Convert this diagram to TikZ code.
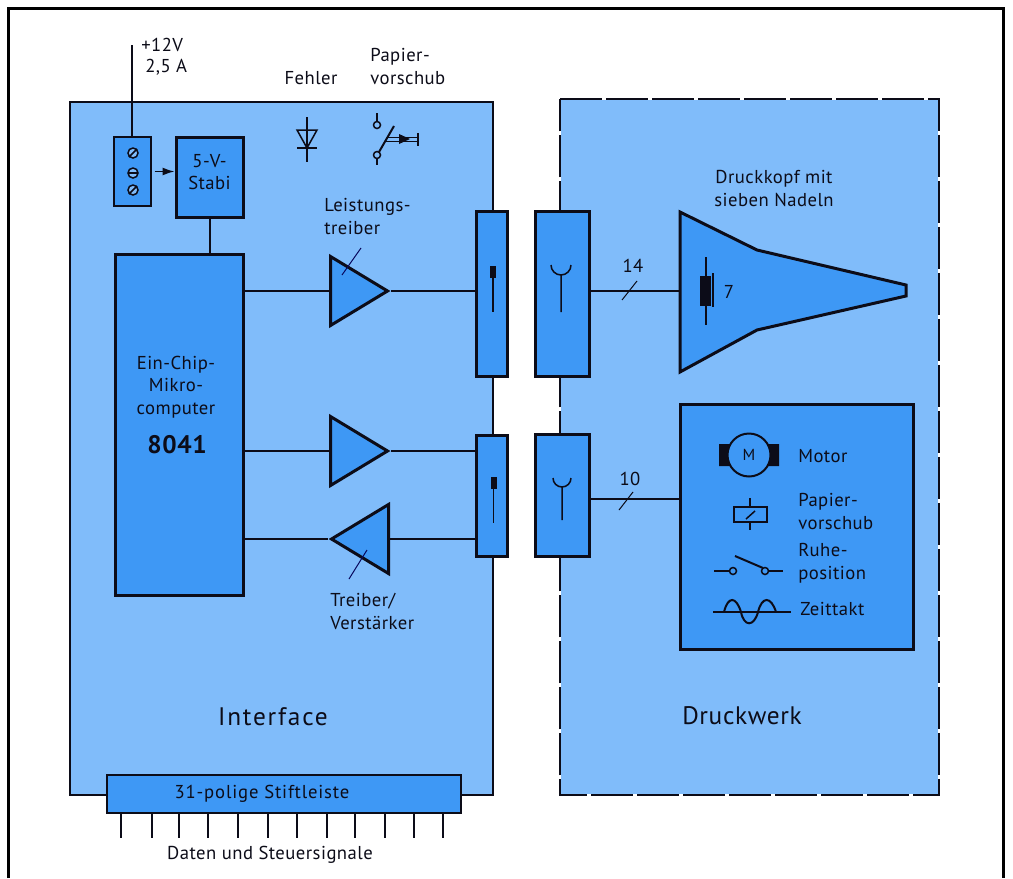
\documentclass[tikz,border=0pt]{standalone}
\usepackage{fontspec}
\setmainfont{PT Sans}[LetterSpace=2.5]
\definecolor{panelBlue}{RGB}{128,188,250}
\definecolor{boxBlue}{RGB}{62,152,245}
\definecolor{inkBlack}{RGB}{12,12,24}
\usetikzlibrary{arrows.meta, positioning, shapes.geometric}
\newcommand{\px}{0.75pt}

\begin{document}
\begin{tikzpicture}[
    x=0.75pt, y=-0.75pt,
    every node/.style={font=\fontsize{14}{17}\selectfont, text=inkBlack},
    conn/.style={draw=inkBlack, line width=1.5*\px},
    panel/.style={draw=inkBlack, fill=panelBlue, line width=1.5*\px, inner sep=0pt},
    block/.style={draw=inkBlack, fill=boxBlue, line width=3*\px, inner sep=0pt},
    thinblock/.style={block, line width=2*\px},
    amp/.style={isosceles triangle, isosceles triangle stretches, draw=inkBlack, fill=boxBlue,
                line width=3*\px, inner sep=0pt, minimum height=57*\px, minimum width=69*\px},
    lab/.style={align=left, anchor=west, inner sep=0pt},
    midlab/.style={align=center, inner sep=0pt},
    bigger/.style={font=\fontsize{19}{22}\selectfont}
  ]
    \useasboundingbox (0,0) rectangle (1013,878);
    % outer frame
    \draw[draw=black, line width=3*\px] (8,878) -- (8,8) -- (1003,8) -- (1003,878);

    % the two boards
    \node[panel, minimum width=423*\px, minimum height=693*\px] (interface) at (281.5,448.5) {};
    \node[panel, draw=none, minimum width=377*\px, minimum height=694*\px] (druckwerk) at (749.5,447) {};
    \draw[inkBlack, line width=2*\px, dash pattern=on 42*\px off 4*\px]
      (druckwerk.north west) -- (druckwerk.north east) -- (druckwerk.south east)
      -- (druckwerk.south west) -- cycle;
    \node[bigger, midlab] (tinterface) at (273,717) {\addfontfeature{LetterSpace=7}Interface};
    \node[bigger, midlab] (tdruckwerk) at (742,716) {Druckwerk};

    % supply
    \coordinate (vcc) at (132,45);
    \node[thinblock, minimum width=37*\px, minimum height=69*\px] (klemme) at (132.5,171.5) {};
    \node[block, minimum width=67*\px, minimum height=80*\px] (stabi) at (209.5,177.5) {};
    \node[midlab] (tstabi) at (209.5,172) {5-V-\\Stabi};
    \draw[conn] (vcc) -- (klemme.north -| vcc);
    \draw[conn, shorten <=2pt, -{Latex[length=9pt,width=6pt]}] (klemme.east) -- (klemme.east -| stabi.west);
    \node[lab] (tvcc) at (141,45) {+12V};
    \node[lab] (tamp) at (145,67) {2,5 A};
    \foreach \y/\dx/\dy in {153/4/4, 173/4/0, 190/4/4} {
      \draw[conn, fill=panelBlue] (133,\y) circle (5);
      \draw[conn] (133-\dx,\y+\dy) -- (133+\dx,\y-\dy);
    }

    % chip
    \node[block, minimum width=128*\px, minimum height=341*\px] (chip) at (179,424.5) {};
    \node[midlab] (tchip) at (176,387) {Ein-Chip-\\Mikro-\\computer};
    \node[midlab, font=\fontsize{19}{22}\selectfont\bfseries] (tcode) at (177,445) {8041};
    \draw[conn, line width=2*\px] (stabi.south) -- (chip.north -| stabi.south);

    % fault and feed symbols
    \node[midlab] (tfehler) at (311,78) {Fehler};
    \node[lab] (tfeed) at (370,66.5) {Papier-\\vorschub};
    \draw[conn] (307,117) -- (307,162) (297,148) -- (317,148);
    \draw[conn] (297,130) -- (317,130) -- (307,148) -- cycle;
    \draw[conn] (377,113) -- (377,122) (377,158) -- (377,165);
    \draw[conn] (377,125) circle (3.5) (377,155) circle (3.5);
    \draw[conn, line width=2*\px] (379,152) -- (394,126);
    \draw[conn, line width=1*\px] (387,137) -- (418,137) (385,141) -- (418,141);
    \draw[conn] (418,133) -- (418,146);
    \fill[inkBlack] (399,134) -- (410,139) -- (399,144) -- cycle;

    % amplifiers
    \node[amp, anchor=lower side] (amp1) at (329,291) {};
    \node[amp, anchor=lower side] (amp2) at (329,451) {};
    \node[amp, anchor=lower side, shape border rotate=180] (amp3) at (390,539) {};
    \draw[conn, draw=inkBlack!70!blue, line width=1*\px] (361,248) -- (342,275);
    \draw[conn, draw=inkBlack!70!blue, line width=1*\px] (367,550) -- (349,579);
    \node[lab] (tpower) at (324,216.5) {Leistungs-\\treiber};
    \node[lab] (tdriver) at (330,611.5) {Treiber/\\Verstärker};

    % plug connectors
    \node[block, minimum width=31*\px, minimum height=165*\px] (steck1) at (491.5,293.5) {};
    \node[block, minimum width=54*\px, minimum height=165*\px] (buchse1) at (562,293.5) {};
    \node[block, minimum width=31*\px, minimum height=121*\px] (steck2) at (491.5,495.5) {};
    \node[block, minimum width=54*\px, minimum height=122*\px] (buchse2) at (562.5,495) {};
    \draw[conn] (chip.east |- amp1.lower side) -- (amp1.lower side);
    \draw[conn] (chip.east |- amp2.lower side) -- (amp2.lower side);
    \draw[conn] (chip.east |- amp3.apex) -- (amp3.apex);
    \draw[conn] (amp1.apex) -- (steck1.west |- amp1.apex);
    \draw[conn] (amp2.apex) -- (steck2.west |- amp2.apex);
    \draw[conn] (amp3.lower side) -- (steck2.west |- amp3.lower side);
    % pins and sockets
    \foreach \x/\y in {493/266, 493.5/477} {
      \fill[inkBlack] (\x-3,\y) rectangle (\x+3,\y+12);
      \draw[conn] (\x,\y+12) -- (\x,\y+46);
    }
    \draw[conn] (551,265) arc[start angle=180, end angle=0, radius=10] (561,275) -- (561,312);
    \draw[conn] (553,478) arc[start angle=180, end angle=0, radius=9] (562,487) -- (562,520);

    % print head
    \coordinate (kopf) at (680,291);
    \draw[block, line join=miter] (680,212) -- (757,250) -- (906,285) -- (906,296) -- (757,330) -- (680,372) -- cycle;
    \node[midlab] (thead) at (774,188.5) {Druckkopf mit\\sieben Nadeln};
    \draw[conn] (buchse1.east |- kopf) -- (kopf);
    \draw[conn, line width=1*\px] (622,300) -- (637,281);
    \node[midlab] (t14) at (633,266) {14};
    \draw[conn] (706,257) -- (706,325) (713,273) -- (713,307);
    \fill[inkBlack] (700,276) rectangle (711,306);
    \node[midlab] (t7) at (729,292) {7};

    % mechanics
    \node[block, minimum width=233*\px, minimum height=245*\px] (mech) at (796.5,526.5) {};
    \coordinate (mechin) at (mech.west |- 0,499);
    \draw[conn] (buchse2.east |- mechin) -- (mechin);
    \draw[conn, line width=1*\px] (619,510) -- (633,492);
    \node[midlab] (t10) at (630,479) {10};

    % motor
    \fill[inkBlack] (719,444) rectangle (730,466) (768,444) rectangle (779,466);
    \node[circle, draw=inkBlack, fill=boxBlue, line width=2*\px, minimum size=43*\px, inner sep=0pt,
          font=\fontsize{12}{14}\selectfont] (motor) at (749,455) {M};
    \node[lab] (tmotor) at (798,456) {Motor};

    % feed magnet
    \draw[conn] (750,498) -- (750,530);
    \draw[conn, line width=2*\px, fill=boxBlue] (734,507) rectangle (767,522);
    \draw[conn] (746,519) -- (755,511);
    \node[lab] (tmagnet) at (798,511.5) {Papier-\\vorschub};

    % rest position switch
    \draw[conn] (714,571) -- (729.5,571) (768.5,571) -- (783,571);
    \draw[conn] (733,571) circle (3.5) (765,571) circle (3.5);
    \draw[conn, line width=2*\px] (735,556) -- (763,568);
    \node[lab] (trest) at (798,563.5) {Ruhe-\\position};

    % timing
    \draw[conn] (713,612) -- (791,612);
    \draw[conn, line width=2*\px] (724,612) .. controls (728,596) and (736,596) .. (741,612)
      .. controls (744,627) and (754,627) .. (758,612)
      .. controls (762,596) and (771,596) .. (776,612);
    \node[lab] (ttakt) at (800,609) {Zeittakt};

    % pin strip
    \node[thinblock, minimum width=354*\px, minimum height=38*\px] (leiste) at (283.5,794) {};
    \node[midlab] (tleiste) at (262,794) {\addfontfeature{LetterSpace=4.5}31-polige Stiftleiste};
    \foreach \x in {121,152,179,208,238,268,297,327,355,385,414,443} {
      \draw[conn] (leiste.south -| \x,0) -- ++(0,24);
    }
    \node[midlab] (tsignale) at (270,855) {Daten und Steuersignale};
  \end{tikzpicture}
\end{document}
